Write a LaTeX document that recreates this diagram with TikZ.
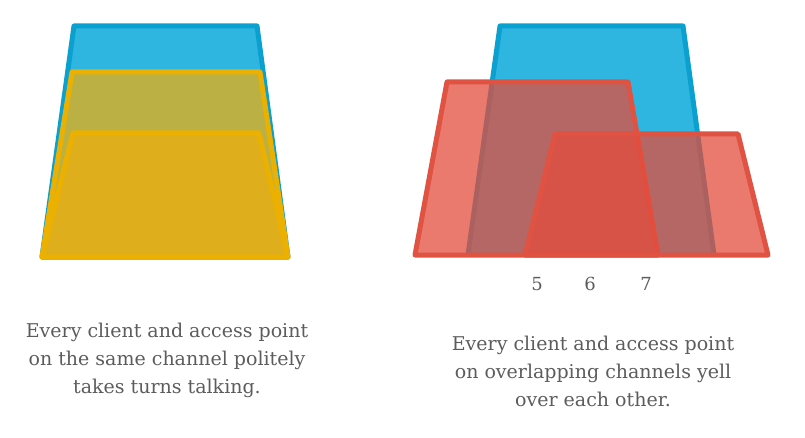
\documentclass[tikz,border=0pt]{standalone}
\usepackage{fontspec}
\setmainfont{DejaVu Serif}
\begin{document}
\begin{tikzpicture}[x=1pt,y=-1pt,
  shape base/.style={line width=5pt,line join=round},
  blueshape/.style={shape base,draw=bluestroke,fill=bluefill},
  yellowshape/.style={shape base,draw=yellowstroke,fill=yellowfill,fill opacity=0.75},
  redshape/.style={shape base,draw=redstroke,fill=redfill,fill opacity=0.75},
  caption/.style={align=center,text=textgray,inner sep=0pt,font=\fontsize{19}{28}\selectfont},
  chan/.style={text=textgray,inner sep=0pt,anchor=base,font=\fontsize{18}{20}\selectfont}]
\definecolor{bluefill}{RGB}{47,182,224}
\definecolor{bluestroke}{RGB}{10,160,208}
\definecolor{yellowfill}{RGB}{234,174,16}
\definecolor{yellowstroke}{RGB}{236,176,0}
\definecolor{redfill}{RGB}{227,77,61}
\definecolor{redstroke}{RGB}{224,82,66}
\definecolor{textgray}{RGB}{92,92,92}
\useasboundingbox (0,0) rectangle (805,438);
% left
\draw[blueshape] (74,26) -- (257,26) -- (288,257) -- (42,257) -- cycle;
\draw[yellowshape] (72,72) -- (260,72) -- (288,257) -- (42,257) -- cycle;
\draw[yellowshape] (73,133) -- (259,133) -- (288,257) -- (42,257) -- cycle;
% right
\fill[bluefill] (500,26) -- (683,26) -- (714,255) -- (468,255) -- cycle;
\draw[shape base,draw=bluestroke] (468,255) -- (500,26) -- (683,26) -- (714,255);
\draw[redshape] (447,82) -- (628,82) -- (658,255) -- (415,255) -- cycle;
\draw[redshape] (555,134) -- (738,134) -- (768,255) -- (525,255) -- cycle;
% labels
\node[chan] (c5) at (537,290) {5};
\node[chan] (c6) at (590,290) {6};
\node[chan] (c7) at (646,290) {7};
\node[caption] (capl) at (167,360) {Every client and access point\\on the same channel politely\\takes turns talking.};
\node[caption] (capr) at (593,371.5) {Every client and access point\\on overlapping channels yell\\over each other.};
\end{tikzpicture}
\end{document}
